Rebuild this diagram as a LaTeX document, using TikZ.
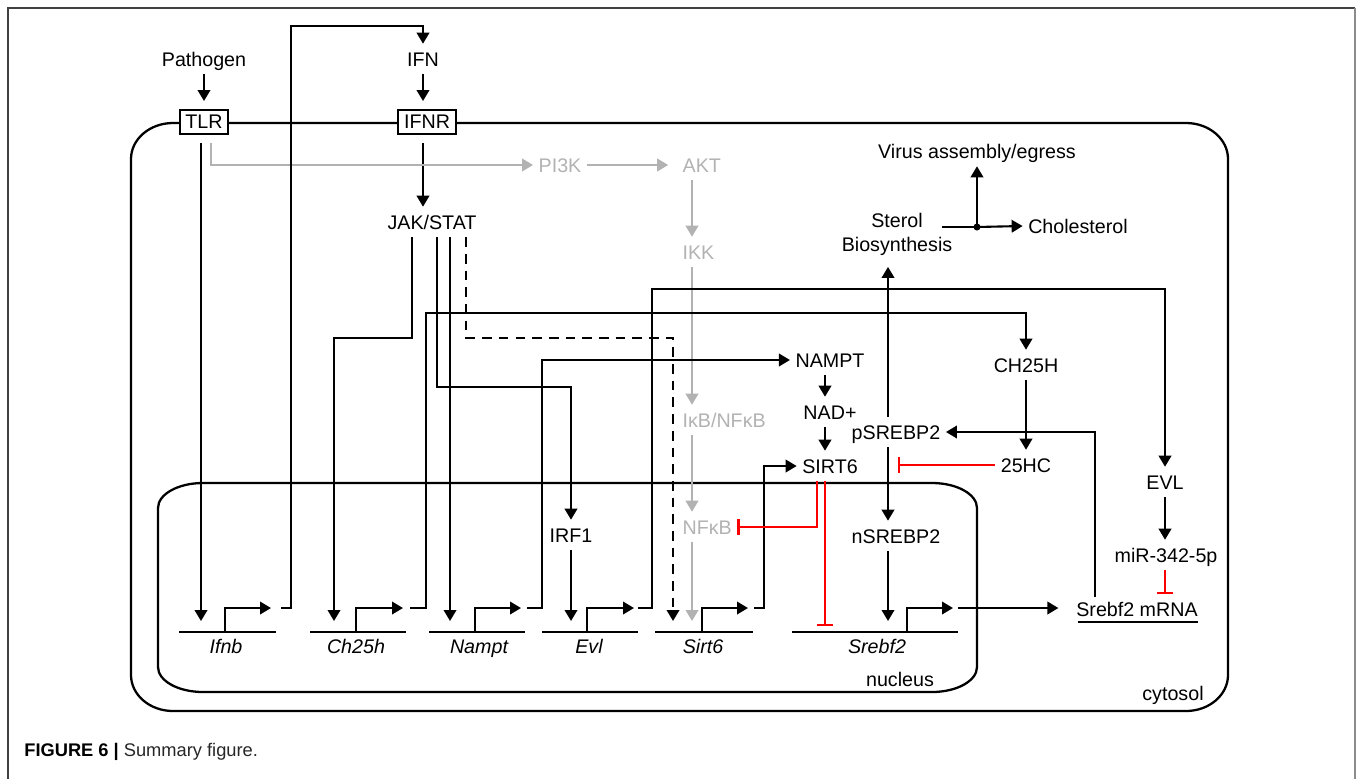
\documentclass[tikz,border=0pt]{standalone}
\usepackage{fontspec}
\setmainfont{Liberation Sans}
\usetikzlibrary{arrows.meta, calc}
\definecolor{cGrey}{RGB}{178,178,178}
\definecolor{cRed}{RGB}{250,0,0}
\tikzset{
	lbl/.style  ={inner xsep=3pt, inner ysep=4.5pt, text height=8pt, text depth=0pt},
	glbl/.style ={lbl, text=cGrey, anchor=west},
	gene/.style ={lbl, font=\fontsize{11.2pt}{13.6pt}\selectfont\itshape},
	rcpt/.style ={draw, line width=1.2pt, fill=white, minimum width=0.96cm, minimum height=0.48cm, inner sep=0pt},
	memb/.style ={line width=1.3pt},
	wire/.style ={line width=1.2pt},
	act/.style  ={-{Triangle[length=2.2mm, width=2.5mm]}, line width=1.2pt},
	gact/.style ={act, cGrey},
	dact/.style ={act, dash pattern=on 5.5pt off 4pt},
	inh/.style  ={-{Bar[width=3.2mm]}, line width=1.2pt, cRed},
	gap/.style  ={shorten <=4.5pt},
}

\begin{document}
\begin{tikzpicture}[x=0.02cm, y=-0.02cm, font=\fontsize{11.2pt}{13.6pt}\selectfont]
\useasboundingbox (0,0) rectangle (1358,778);
% frame
\draw[black!75, line width=0.6pt] (8,790) -- (8,8) -- (1355,8);
\draw[black!45, line width=1pt] (1355,8) -- (1355,790);

% cytosol and nucleus
\draw[memb] (173,123) -- (1186,123) .. controls (1209.2,123) and (1228,139.1) .. (1228,159) -- (1228,675)
	.. controls (1228,694.9) and (1209.2,711) .. (1186,711) -- (173,711)
	.. controls (149.8,711) and (131,694.9) .. (131,675) -- (131,159)
	.. controls (131,139.1) and (149.8,123) .. cycle;
\draw[memb] (203,483) -- (932,483) .. controls (956.9,483) and (977,494.2) .. (977,508) -- (977,667)
	.. controls (977,680.8) and (956.9,692) .. (932,692) -- (203,692)
	.. controls (178.1,692) and (158,680.8) .. (158,667) -- (158,508)
	.. controls (158,494.2) and (178.1,483) .. cycle;
\node[lbl] (cyto) at (1173,693) {cytosol};
\node[lbl] (nucl) at (900,679) {nucleus};

% signalling nodes
\node[lbl] (pathogen) at (204,59) {Pathogen};
\node[lbl] (ifn) at (423,59) {IFN};
\node[rcpt] (tlr) at (204,122) {TLR};
\node[rcpt, minimum width=1.16cm] (ifnr) at (427,122) {IFNR};
\node[lbl] (jak) at (432,222) {JAK/STAT};
\node[lbl, text=cGrey] (pik) at (560,165) {PI3K};
\node[glbl] (akt) at (677,165) {AKT};
\node[glbl] (ikk) at (677,252) {IKK};
\node[glbl] (ikb) at (677,420) {IκB/NFκB};
\node[glbl] (nfkb) at (677,527) {NFκB};
\node[lbl] (irf) at (571,535) {IRF1};
\node[lbl] (nampt) at (830,360) {NAMPT};
\node[lbl] (nad) at (830,412) {NAD+};
\node[lbl] (sirt) at (830,466) {SIRT6};
\node[lbl] (psrebp) at (896,432) {pSREBP2};
\node[lbl] (nsrebp) at (896,536) {nSREBP2};
\node[lbl] (ch25h) at (1026,365) {CH25H};
\node[lbl] (hc) at (1026,465) {25HC};
\node[lbl] (evl) at (1165,482) {EVL};
\node[lbl] (mir) at (1166,555) {miR-342-5p};
\node[lbl] (mrna) at (1137,609) {Srebf2 mRNA};
\node[align=center, inner sep=3pt] (sterol) at (897,234) {Sterol\\Biosynthesis};
\node[lbl] (chol) at (1078,226) {Cholesterol};
\node[lbl] (virus) at (977,151) {Virus assembly/egress};
\coordinate (stj) at (977,227);

% genes
\draw[wire] (179,632) -- (276,632);
\draw[act] (225,632) |- (271,608);
\node[gene] (gIfnb) at (226,646) {Ifnb};
\draw[wire] (310,632) -- (406,632);
\draw[act] (356,632) |- (403,608);
\node[gene] (gCh25h) at (356,646) {Ch25h};
\draw[wire] (429,632) -- (525,632);
\draw[act] (475,632) |- (521,608);
\node[gene] (gNampt) at (479,646) {Nampt};
\draw[wire] (542,632) -- (638,632);
\draw[act] (587,632) |- (634,608);
\node[gene] (gEvl) at (589,646) {Evl};
\draw[wire] (655,632) -- (753,632);
\draw[act] (702,632) |- (748,608);
\node[gene] (gSirt6) at (703,646) {Sirt6};
\draw[wire] (792,632) -- (958,632);
\draw[act] (907,632) |- (953,608);
\node[gene] (gSrebf2) at (877,646) {Srebf2};

\coordinate (inIfnb) at (201,621);
\coordinate (inCh25h) at (334,621);
\coordinate (inNampt) at (450,621);
\coordinate (inEvl) at (571,621);
\coordinate (inSirt6) at (673,621);
\coordinate (inSirtG) at (692,621);
\coordinate (inSrebf2) at (888,621);
\coordinate (inSrebfR) at (825,626);
\coordinate (outIfnb) at (281,608);
\coordinate (outCh25h) at (410,608);
\coordinate (outNampt) at (527,608);
\coordinate (outEvl) at (638,608);
\coordinate (outSirt6) at (754,608);
\coordinate (outSrebf2) at (958,608);
\coordinate (gcol) at (692,0);
\coordinate (cSre) at (888,0);
\coordinate (cBar) at (898,0);
\coordinate (cNad) at (825,0);
\coordinate (cRed1) at (817,0);

% receptors
\draw[act, shorten >=4.5pt] (pathogen.south) -- (pathogen.south |- tlr.north);
\draw[act, shorten >=4.5pt] (ifn.south) -- (ifn.south |- ifnr.north);
\draw[act, gap] (ifnr.south -| ifn) -- (jak.north -| ifn);
\draw[act, gap] (tlr.south -| inIfnb) -- (inIfnb);

% PI3K / NFkB branch
\draw[gact, gap] ($(tlr.south)+(7,0)$) |- (pik.west);
\draw[gact, shorten >=5pt] (pik.east) -- (akt.west);
\draw[gact] (akt.south -| gcol) -- (ikk.north -| gcol);
\draw[gact] (ikk.south -| gcol) -- (ikb.north -| gcol);
\draw[gact] (ikb.south -| gcol) -- (nfkb.north -| gcol);
\draw[gact] (nfkb.south -| gcol) -- (inSirtG);

% JAK/STAT targets
\draw[act] ($(jak.south)+(-20,0)$) |- (334,338) -- (inCh25h);
\draw[act] ($(jak.south)+(5,0)$) |- (571,387) -- (irf.north);
\draw[act] ($(jak.south)+(18,0)$) -- (inNampt);
\draw[dact] ($(jak.south)+(34,0)$) |- (673,338) -- (inSirt6);
\draw[act] (irf.south) -- (inEvl);

% gene products
\draw[act] (outIfnb) -| (291,26) -| (ifn.north);
\draw[act] (outCh25h) -| (426,313) -| (ch25h.north);
\draw[act] (outNampt) -| (542,360) -- (nampt.west);
\draw[act] (outEvl) -| (652,289) -| (evl.north);
\draw[act] (outSirt6) -| (764,466) -- (sirt.west);
\draw[act, shorten >=7pt] (outSrebf2) -- (mrna.west |- outSrebf2);
\draw[wire] ($(mrna.south west)+(7,-2)$) -- ($(mrna.south east)+(-5,-2)$);

% NAD+ / SIRT6
\draw[act] (nampt.south -| cNad) -- (nad.north -| cNad);
\draw[act] (nad.south -| cNad) -- (sirt.north -| cNad);
\draw[inh] (sirt.south -| cRed1) |- (nfkb.east);
\draw[inh] (sirt.south -| cNad) -- (inSrebfR);

% SREBP2
\draw[act] (psrebp.south -| cSre) -- (nsrebp.north -| cSre);
\draw[act, shorten >=3.5pt] (psrebp.north -| cSre) -- (sterol.south -| cSre);
\draw[act] (nsrebp.south -| cSre) -- (inSrebf2);
\draw[act] ($(mrna.north)+(-42,3)$) |- (psrebp.east);
\draw[act] (ch25h.south) -- (hc.north);
\draw[inh] (hc.west) -- (hc.west -| cBar);
\draw[act] (evl.south) -- (evl.south |- mir.north);
\draw[inh] (mir.south -| evl) -- (mrna.north -| evl);

% sterol outputs
\draw[wire] ($(sterol.east |- stj)+(-16,0)$) -- (stj);
\fill (stj) circle (3.5);
\draw[act] (stj) -- (chol.west);
\draw[act] (stj) -- (virus.south);

% caption
\node[anchor=west, inner sep=0pt, font=\fontsize{10.4pt}{12pt}\selectfont] (cap) at (24,752) {\textbf{FIGURE 6 |} \textcolor{black!85}{Summary figure.}};
\end{tikzpicture}
\end{document}
